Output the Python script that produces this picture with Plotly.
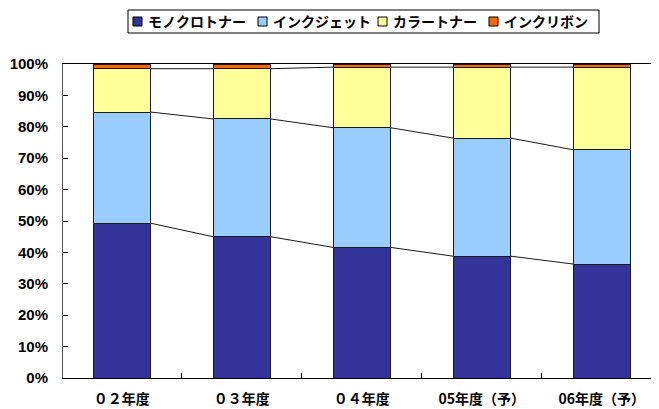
import plotly.graph_objects as go

categories = ["０２年度", "０３年度", "０４年度", "05年度（予）", "06年度（予）"]
series_names = ["モノクロトナー", "インクジェット", "カラートナー", "インクリボン"]
mono = [49.3, 45.0, 41.6, 38.8, 36.3]
inkjet = [35.4, 37.5, 38.1, 37.6, 36.4]
color_toner = [13.8, 16.0, 19.3, 22.6, 26.3]
ribbon = [1.5, 1.5, 1.0, 1.0, 1.0]
colors = ["#333399", "#99CCFF", "#FFFF99", "#FF6600"]
y_ticks = [0, 10, 20, 30, 40, 50, 60, 70, 80, 90, 100]

OFF = 8  # page body margin
W, H = 659, 409
ML, MR, MT, MB = 55, 0, 56, 39
PW, PH = W - ML - MR, H - MT - MB
UNIT = 120.0  # px per category


def px(x):
    return (x - OFF - ML) / PW


def py(y):
    return (H - MB - (y - OFF)) / PH


BAR_W = 0.48
xs = list(range(len(categories)))
fig = go.Figure()
for name, vals, c in zip(series_names, [mono, inkjet, color_toner, ribbon], colors):
    fig.add_trace(go.Bar(x=xs, y=vals, name=name, width=BAR_W, showlegend=False,
                         marker=dict(color=c, line=dict(color="#1a1a1a", width=1))))

# series lines between bars at cumulative tops
cum = [0] * len(categories)
for vals in [mono, inkjet, color_toner]:
    cum = [a + b for a, b in zip(cum, vals)]
    lx, ly = [], []
    for i in range(len(categories) - 1):
        lx += [i + BAR_W / 2, i + 1 - BAR_W / 2, None]
        ly += [cum[i], cum[i + 1], None]
    fig.add_trace(go.Scatter(x=lx, y=ly, mode="lines", showlegend=False,
                             line=dict(color="#1a1a1a", width=1), hoverinfo="skip"))

# legend (box, swatches, labels)
shapes = [dict(type="rect", xref="paper", yref="paper", x0=px(128), x1=px(599),
               y0=py(33), y1=py(10), line=dict(color="#000", width=1), fillcolor="white")]
annotations = []
legend_x = [133, 258, 378, 489]
for name, c, lx0 in zip(series_names, colors, legend_x):
    shapes.append(dict(type="rect", xref="paper", yref="paper", x0=px(lx0), x1=px(lx0 + 9),
                       y0=py(26), y1=py(17), line=dict(color="#000", width=1), fillcolor=c))
    annotations.append(dict(xref="paper", yref="paper", x=px(lx0 + 13), y=py(21.5),
                            xanchor="left", yanchor="middle", showarrow=False, text=name,
                            font=dict(family="Noto Sans CJK JP", size=14, weight="bold", color="#000")))

x_left = -0.49
fig.update_layout(
    width=W, height=H, barmode="stack",
    margin=dict(l=ML, r=MR, t=MT, b=MB, autoexpand=False),
    paper_bgcolor="white", plot_bgcolor="white",
    font=dict(family="Noto Sans CJK JP", color="#000", size=14),
    showlegend=False,
    shapes=shapes, annotations=annotations,
    xaxis=dict(range=[x_left, x_left + PW / UNIT], tickvals=xs, ticktext=categories, ticks="",
               showline=True, linecolor="#000", linewidth=1, mirror=True,
               showgrid=False, zeroline=False,
               tickfont=dict(size=14, weight="bold"), ticklabelstandoff=8,
               minor=dict(tick0=0.5, dtick=1, ticks="inside", ticklen=5, tickcolor="#000", showgrid=False)),
    yaxis=dict(range=[0, 100], tickvals=y_ticks, ticktext=[f"{v}%" for v in y_ticks],
               ticks="inside", ticklen=5, tickcolor="#000",
               showline=True, linecolor="#555", linewidth=1,
               showgrid=False, zeroline=False,
               tickfont=dict(family="Liberation Sans", size=15, weight="bold"),
               ticklabelstandoff=11),
)

fig.write_html("out.html")
